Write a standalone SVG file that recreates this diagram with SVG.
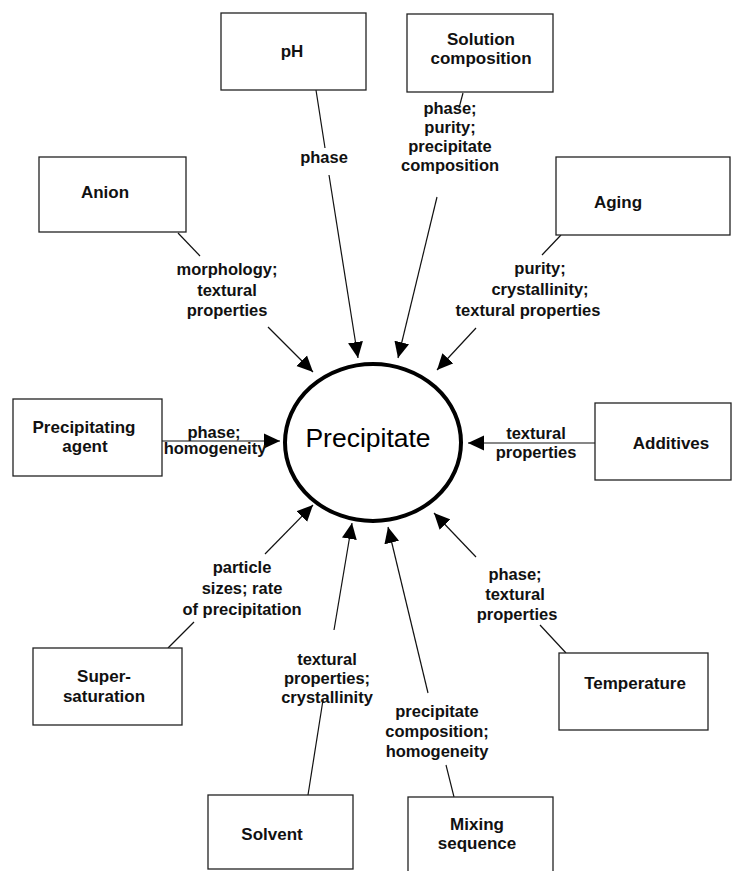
<svg xmlns="http://www.w3.org/2000/svg" width="732" height="871" viewBox="0 0 732 871">
<style>
.box{fill:#fff;stroke:#222;stroke-width:1.3}
.nl{font-family:"Liberation Sans",Arial,Helvetica,sans-serif;font-weight:bold;font-size:17px;fill:#111;text-anchor:middle}
.el{font-family:"Liberation Sans",Arial,Helvetica,sans-serif;font-weight:bold;font-size:16.5px;fill:#111;text-anchor:middle}
.c{stroke:#111;stroke-width:1.2;fill:none}
</style>
<defs>
<marker id="arr" markerUnits="userSpaceOnUse" markerWidth="16" markerHeight="16" viewBox="0 -8 16 16" refX="16" refY="0" orient="auto">
<path d="M0,-7.5 L16,0 L0,7.5 z" fill="#000"/>
</marker>
</defs>
<rect width="732" height="871" fill="#fff"/>

<g id="connectors">
<line class="c" x1="316" y1="90" x2="325" y2="148"/>
<line class="c" x1="329" y1="175" x2="358" y2="358" marker-end="url(#arr)"/>
<line class="c" x1="463" y1="93" x2="459" y2="108"/>
<line class="c" x1="437" y1="197" x2="398" y2="358" marker-end="url(#arr)"/>
<line class="c" x1="178" y1="233" x2="200" y2="256"/>
<line class="c" x1="268" y1="327" x2="313" y2="372" marker-end="url(#arr)"/>
<line class="c" x1="561" y1="235" x2="542" y2="255"/>
<line class="c" x1="476" y1="328" x2="437" y2="370" marker-end="url(#arr)"/>
<line class="c" x1="162" y1="441" x2="280" y2="441" marker-end="url(#arr)"/>
<line class="c" x1="595" y1="443" x2="468" y2="443" marker-end="url(#arr)"/>
<line class="c" x1="168" y1="648" x2="194" y2="622"/>
<line class="c" x1="265" y1="554" x2="313" y2="505" marker-end="url(#arr)"/>
<line class="c" x1="308" y1="795" x2="323" y2="700"/>
<line class="c" x1="334" y1="630" x2="352" y2="523" marker-end="url(#arr)"/>
<line class="c" x1="454" y1="797" x2="446" y2="765"/>
<line class="c" x1="428" y1="693" x2="388" y2="527" marker-end="url(#arr)"/>
<line class="c" x1="566" y1="653" x2="540" y2="625"/>
<line class="c" x1="476" y1="557" x2="434" y2="513" marker-end="url(#arr)"/>
</g>

<g id="edge-labels">
<text class="el" x="324" y="163">phase</text>
<text class="el" x="450"><tspan x="450" y="114">phase;</tspan><tspan x="450" y="133">purity;</tspan><tspan x="450" y="152">precipitate</tspan><tspan x="450" y="171">composition</tspan></text>
<text class="el" x="227"><tspan x="227" y="275">morphology;</tspan><tspan x="227" y="296">textural</tspan><tspan x="227" y="316">properties</tspan></text>
<text class="el" x="533"><tspan x="540" y="274">purity;</tspan><tspan x="540" y="295">crystallinity;</tspan><tspan x="528" y="316">textural properties</tspan></text>
<text class="el" x="214"><tspan x="214" y="438">phase;</tspan><tspan x="215" y="454">homogeneity</tspan></text>
<text class="el" x="536"><tspan x="536" y="439">textural</tspan><tspan x="536" y="458">properties</tspan></text>
<text class="el" x="242"><tspan x="242" y="573">particle</tspan><tspan x="242" y="594">sizes; rate</tspan><tspan x="242" y="615">of precipitation</tspan></text>
<text class="el" x="327"><tspan x="327" y="665">textural</tspan><tspan x="327" y="684">properties;</tspan><tspan x="327" y="703">crystallinity</tspan></text>
<text class="el" x="437"><tspan x="437" y="717">precipitate</tspan><tspan x="437" y="737">composition;</tspan><tspan x="437" y="757">homogeneity</tspan></text>
<text class="el" x="515"><tspan x="515" y="580">phase;</tspan><tspan x="515" y="600">textural</tspan><tspan x="517" y="620">properties</tspan></text>
</g>

<g id="precipitate">
<ellipse cx="373" cy="442.5" rx="88" ry="78.5" fill="none" stroke="#000" stroke-width="4"/>
<text x="368" y="447" font-family="'Liberation Sans',Arial,Helvetica,sans-serif" font-size="26.5" text-anchor="middle" fill="#000">Precipitate</text>
</g>

<g id="ph"><rect class="box" x="221" y="13" width="145" height="77"/><text class="nl" x="292" y="57">pH</text></g>
<g id="solution-composition"><rect class="box" x="407" y="14" width="146" height="78"/><text class="nl"><tspan x="481" y="45">Solution</tspan><tspan x="481" y="64">composition</tspan></text></g>
<g id="anion"><rect class="box" x="39" y="157" width="147" height="75"/><text class="nl" x="105" y="198">Anion</text></g>
<g id="aging"><rect class="box" x="556" y="157" width="174" height="78"/><text class="nl" x="618" y="208">Aging</text></g>
<g id="precipitating-agent"><rect class="box" x="13" y="399" width="149" height="77"/><text class="nl"><tspan x="84" y="433">Precipitating</tspan><tspan x="85" y="452">agent</tspan></text></g>
<g id="additives"><rect class="box" x="595" y="403" width="136" height="77"/><text class="nl" x="671" y="449">Additives</text></g>
<g id="supersaturation"><rect class="box" x="33" y="648" width="149" height="77"/><text class="nl"><tspan x="104" y="682">Super-</tspan><tspan x="104" y="702">saturation</tspan></text></g>
<g id="temperature"><rect class="box" x="559" y="653" width="149" height="77"/><text class="nl" x="635" y="689">Temperature</text></g>
<g id="solvent"><rect class="box" x="208" y="795" width="145" height="74"/><text class="nl" x="272" y="840">Solvent</text></g>
<g id="mixing-sequence"><rect class="box" x="408" y="797" width="145" height="80"/><text class="nl"><tspan x="477" y="830">Mixing</tspan><tspan x="477" y="849">sequence</tspan></text></g>
</svg>
